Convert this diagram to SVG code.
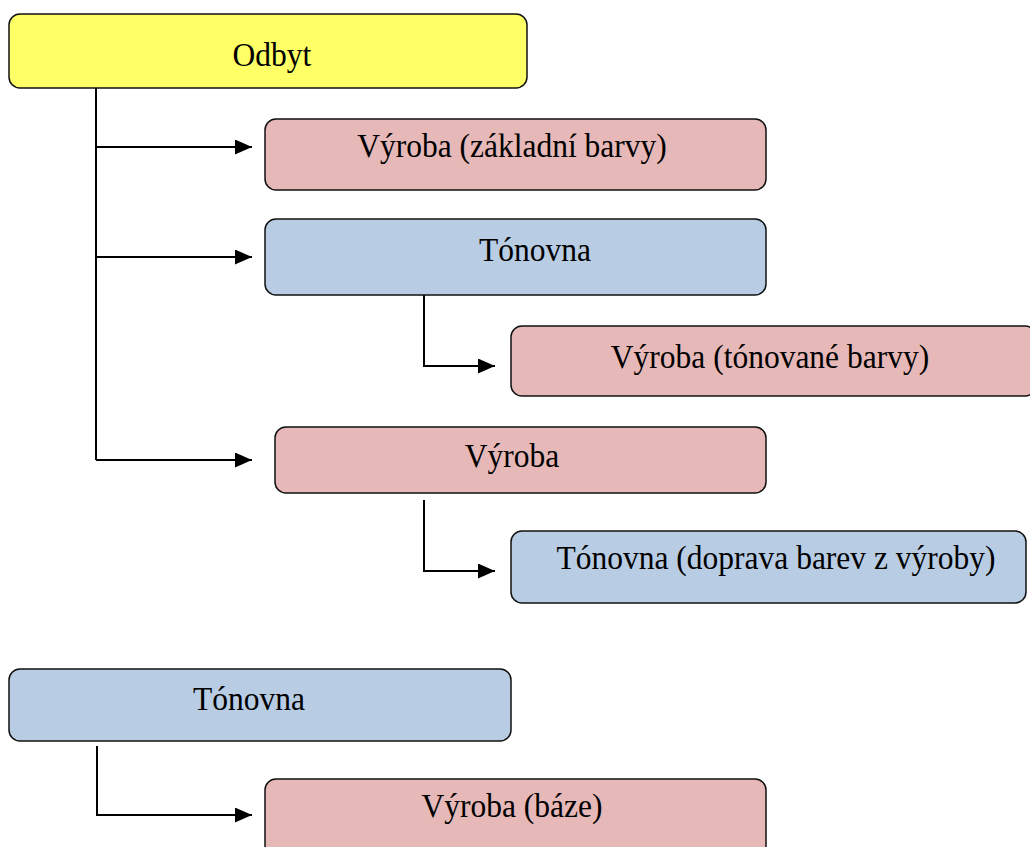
<svg xmlns="http://www.w3.org/2000/svg" width="1030" height="847" viewBox="0 0 1030 847">
<style>
.box{stroke:#111;stroke-width:1.5}
.y{fill:#ffff66}
.r{fill:#e6b8b7}
.b{fill:#b8cce4}
.t{font-family:"Liberation Serif",serif;font-size:31.5px;fill:#000;text-anchor:middle}
.c{fill:none;stroke:#000;stroke-width:2}
</style>
<defs>
<marker id="ah" markerWidth="17" markerHeight="15" refX="17" refY="7.5" orient="auto" markerUnits="userSpaceOnUse" viewBox="0 0 17 15">
<path d="M0,0 L17,7.5 L0,15 z" fill="#000"/>
</marker>
</defs>
<g id="connectors">
<path class="c" d="M96,88 V460"/>
<path class="c" d="M96,147 H252" marker-end="url(#ah)"/>
<path class="c" d="M96,257 H252" marker-end="url(#ah)"/>
<path class="c" d="M96,460 H252" marker-end="url(#ah)"/>
<path class="c" d="M424,295 V366 H495" marker-end="url(#ah)"/>
<path class="c" d="M424,500 V571 H495" marker-end="url(#ah)"/>
<path class="c" d="M97,746 V815 H252" marker-end="url(#ah)"/>
</g>
<g id="odbyt"><rect class="box y" x="9" y="14" width="518" height="74" rx="11"/><text class="t" transform="translate(272,66) scale(1,1.1)">Odbyt</text></g>
<g id="vyroba-zakladni"><rect class="box r" x="265" y="119" width="501" height="71" rx="11"/><text class="t" transform="translate(512,157) scale(1,1.1)">Výroba (základní barvy)</text></g>
<g id="tonovna1"><rect class="box b" x="265" y="219" width="501" height="76" rx="11"/><text class="t" transform="translate(535,261) scale(1,1.1)">Tónovna</text></g>
<g id="vyroba-tonovane"><rect class="box r" x="511" y="326" width="525" height="70" rx="11"/><text class="t" transform="translate(770,368) scale(1,1.1)">Výroba (tónované barvy)</text></g>
<g id="vyroba"><rect class="box r" x="275" y="427" width="491" height="66" rx="11"/><text class="t" transform="translate(512,467) scale(1,1.1)">Výroba</text></g>
<g id="tonovna-doprava"><rect class="box b" x="511" y="531" width="515" height="72" rx="11"/><text class="t" transform="translate(776,569) scale(1,1.1)">Tónovna (doprava barev z výroby)</text></g>
<g id="tonovna2"><rect class="box b" x="9" y="669" width="502" height="72" rx="11"/><text class="t" transform="translate(249,710) scale(1,1.1)">Tónovna</text></g>
<g id="vyroba-baze"><rect class="box r" x="265" y="779" width="501" height="80" rx="11"/><text class="t" transform="translate(512,817) scale(1,1.1)">Výroba (báze)</text></g>
</svg>
